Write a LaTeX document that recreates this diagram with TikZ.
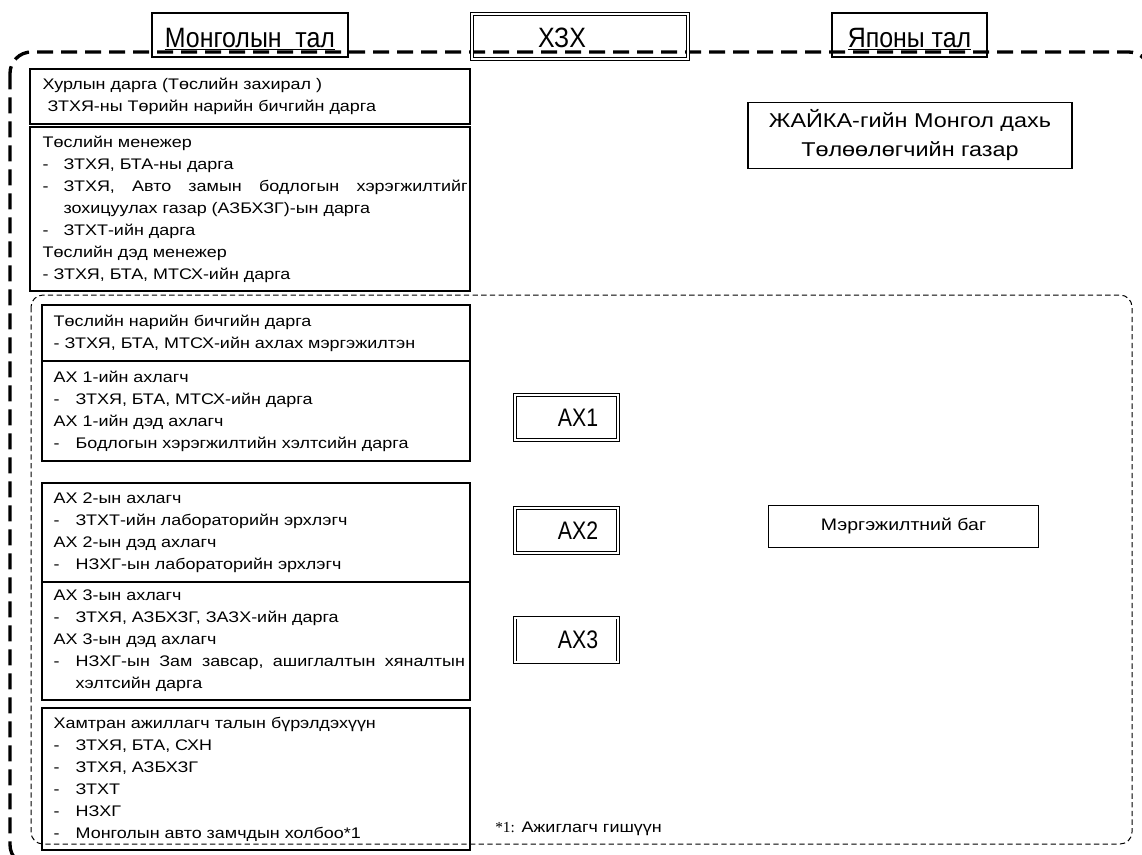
\documentclass[tikz,border=0pt]{standalone}
\usepackage{fontspec}
\usepackage{graphicx}
\setmainfont{Liberation Sans}
\newfontfamily\widesans{Liberation Sans}[FakeStretch=1.17]
\newfontfamily\noteserif{Liberation Serif}
\usetikzlibrary{calc}
\newcommand\bx{\widesans\fontsize{11.5}{16.5}\selectfont}
\newcommand\itm[1]{\makebox[15.75pt][l]{-}#1}
\newcommand\cnt[1]{\hspace*{15.75pt}#1}
\newcommand\itmb[1]{\makebox[16.5pt][l]{-}#1}
\newcommand\cntb[1]{\hspace*{16.5pt}#1}
\newcommand\hdr[1]{\fontsize{21}{24}\selectfont\scalebox{0.89}[1]{#1}}
\newcommand\axf[1]{\fontsize{19}{22}\selectfont\scalebox{0.84}[1]{#1}}
\tikzset{
  framebox/.style={draw, line width=0.9pt, inner sep=0pt},
  boxtext/.style={anchor=west, inner sep=0pt, align=left, font=\bx},
  hbox/.style={draw, line width=0.9pt, inner sep=0pt, minimum height=33pt},
  dbox/.style={draw, double, double distance=1.5pt, line width=0.6pt, inner sep=0pt},
  cbox/.style={draw, line width=0.8pt, inner sep=0pt, align=center},
  outerdash/.style={line width=2.5pt, dash pattern=on 12pt off 6pt, rounded corners=16pt},
  innerdash/.style={line width=0.75pt, dash pattern=on 4pt off 2.5pt, rounded corners=9pt}
}
\begin{document}
\begin{tikzpicture}[x=0.75pt,y=-0.75pt]
\useasboundingbox (0,0) rectangle (1142,854);
\clip (0,0) rectangle (1142,854);
% outer and inner dashed frames
\draw[outerdash] (10,52) rectangle (1150,866);
\draw[innerdash] (31,295) rectangle (1132,844);
% header boxes
\node[hbox, minimum width=147pt] (mon) at (250,35) {};
\node[anchor=base, inner sep=0pt] (mont) at (250,47) {\hdr{\underline{Монголын\ \ тал}}};
\node[dbox, minimum width=162pt, minimum height=34pt] (hzh) at (580,36.5) {};
\node[anchor=base, inner sep=0pt] (hzht) at (562,47) {\hdr{ХЗХ}};
\node[hbox, minimum width=116.25pt] (jap) at (909.5,35) {};
\node[anchor=base, inner sep=0pt] (japt) at (909.5,47) {\hdr{\underline{Японы тал}}};
% left column, upper boxes
\node[framebox, minimum width=330pt, minimum height=41.25pt] (b1) at (250,96.5) {};
\node[boxtext] (t1) at ($(b1.west)+(13,0)$) {Хурлын дарга (Төслийн захирал )\\
\ ЗТХЯ-ны Төрийн нарийн бичгийн дарга};
\node[framebox, minimum width=330pt, minimum height=123pt] (b2) at (250,209) {};
\node[boxtext] (t2) at ($(b2.west)+(13,0)$) {Төслийн менежер\\
\itm{ЗТХЯ, БТА-ны дарга}\\
\itm{\hbox to 303pt{ЗТХЯ,\hfill Авто\hfill замын\hfill бодлогын\hfill хэрэгжилтийг}}\\
\cnt{зохицуулах газар (АЗБХЗГ)-ын дарга}\\
\itm{ЗТХТ-ийн дарга}\\
Төслийн дэд менежер\\
- ЗТХЯ, БТА, МТСХ-ийн дарга};
% left column, boxes inside the inner frame
\node[framebox, minimum width=321pt, minimum height=42pt] (b3) at (256,333) {};
\node[boxtext] (t3) at ($(b3.west)+(12,0)$) {Төслийн нарийн бичгийн дарга\\
- ЗТХЯ, БТА, МТСХ-ийн ахлах мэргэжилтэн};
\node[framebox, minimum width=321pt, minimum height=75pt] (b4) at (256,411) {};
\node[boxtext] (t4) at ($(b4.west)+(12,0)$) {АХ 1-ийн ахлагч\\
\itmb{ЗТХЯ, БТА, МТСХ-ийн дарга}\\
АХ 1-ийн дэд ахлагч\\
\itmb{Бодлогын хэрэгжилтийн хэлтсийн дарга}};
\node[framebox, minimum width=321pt, minimum height=74.25pt] (b5) at (256,532.5) {};
\node[boxtext] (t5) at ($(b5.west)+(12,0)$) {АХ 2-ын ахлагч\\
\itmb{ЗТХТ-ийн лабораторийн эрхлэгч}\\
АХ 2-ын дэд ахлагч\\
\itmb{НЗХГ-ын лабораторийн эрхлэгч}};
\node[framebox, minimum width=321pt, minimum height=88.5pt] (b6) at (256,641) {};
\node[boxtext] (t6) at ($(b6.west)+(12,0)$) {АХ 3-ын ахлагч\\
\itmb{ЗТХЯ, АЗБХЗГ, ЗАЗХ-ийн дарга}\\
АХ 3-ын дэд ахлагч\\
\itmb{\hbox to 292pt{НЗХГ-ын\hfill Зам\hfill завсар,\hfill ашиглалтын\hfill хяналтын}}\\
\cntb{хэлтсийн дарга}};
\node[framebox, minimum width=321pt, minimum height=106.5pt] (b7) at (256,779) {};
\node[boxtext] (t7) at ($(b7.west)+(12,0)$) {Хамтран ажиллагч талын бүрэлдэхүүн\\
\itmb{ЗТХЯ, БТА, СХН}\\
\itmb{ЗТХЯ, АЗБХЗГ}\\
\itmb{ЗТХТ}\\
\itmb{НЗХГ}\\
\itmb{Монголын авто замчдын холбоо*1}};
% middle column
\node[dbox, minimum width=77pt, minimum height=33.5pt] (ax1) at (566.5,417.5) {};
\node[inner sep=0pt] (ax1t) at (578,417.5) {\axf{АХ1}};
\node[dbox, minimum width=77pt, minimum height=33.5pt] (ax2) at (566.5,530.5) {};
\node[inner sep=0pt] (ax2t) at (578,530.5) {\axf{АХ2}};
\node[dbox, minimum width=77pt, minimum height=33.5pt] (ax3) at (566.5,640) {};
\node[inner sep=0pt] (ax3t) at (578,640) {\axf{АХ3}};
% right column
\node[cbox, minimum width=243pt, minimum height=50pt, font=\widesans\fontsize{15}{21.75}\selectfont] (jica) at (910,135.5) {ЖАЙКА-гийн Монгол дахь\\Төлөөлөгчийн газар};
\node[cbox, minimum width=203pt, minimum height=32pt, font=\widesans\fontsize{12.5}{14}\selectfont] (team) at (903.5,526.5) {Мэргэжилтний баг};
% note
\node[anchor=base west, inner sep=0pt, font=\bx] (note) at (495,832) {{\noteserif *1:} Ажиглагч гишүүн};
\end{tikzpicture}
\end{document}
